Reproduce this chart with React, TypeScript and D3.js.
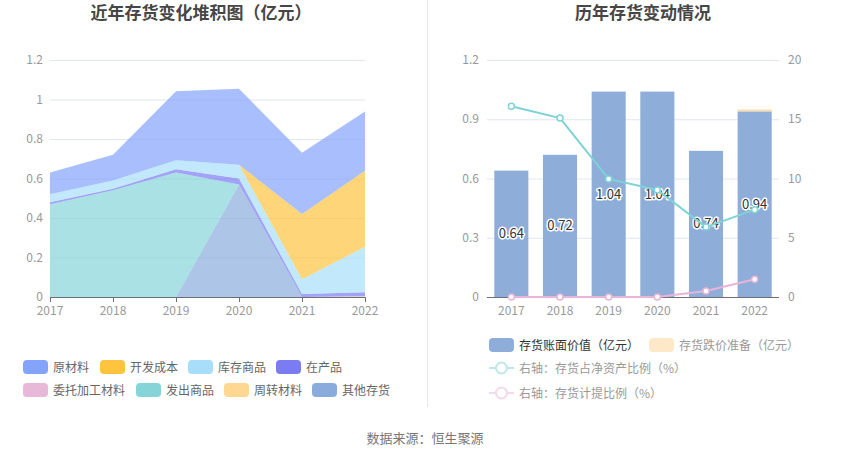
import React from "react";
import * as d3 from "d3";

const years = ["2017", "2018", "2019", "2020", "2021", "2022"];

// Left stacked chart series (亿元)
const rawMaterial = [0.11, 0.13, 0.35, 0.385, 0.31, 0.30]; // 原材料
const devCost = [0, 0, 0, 0, 0.33, 0.385]; // 开发成本
const goodsStock = [0.04, 0.042, 0.045, 0.07, 0.075, 0.23]; // 库存商品
const wip = [0.01, 0.008, 0.017, 0.03, 0.015, 0.02]; // 在产品
const consigned = [0, 0, 0, 0, 0, 0]; // 委托加工材料
const shipped = [0.47, 0.54, 0.63, 0, 0, 0]; // 发出商品
const turnover = [0, 0, 0, 0, 0, 0.004]; // 周转材料
const otherStock = [0, 0, 0, 0.57, 0, 0]; // 其他存货

const leftTicks = [0, 0.2, 0.4, 0.6, 0.8, 1, 1.2];

// Right chart
const bookValue = [0.64, 0.72, 1.04, 1.04, 0.74, 0.94]; // 存货账面价值
const impairment = [0, 0, 0, 0, 0, 0.01]; // 存货跌价准备
const ratioNetAssets = [16.1, 15.1, 9.96, 9.03, 5.9, 7.37]; // 存货占净资产比例
const provisionRatio = [0, 0, 0, 0, 0.5, 1.49]; // 存货计提比例
const rightLeftTicks = [0, 0.3, 0.6, 0.9, 1.2];
const rightRightTicks = [0, 5, 10, 15, 20];

const FONT = "'Noto Sans CJK SC', 'Noto Sans', sans-serif";

type Series = { name: string; color: string; values: number[] };

// stacking order from bottom to top
const stackSeries: Series[] = [
  { name: "其他存货", color: "#8aacdc", values: otherStock },
  { name: "周转材料", color: "#fed890", values: turnover },
  { name: "发出商品", color: "#84d4d8", values: shipped },
  { name: "委托加工材料", color: "#e8b8d8", values: consigned },
  { name: "在产品", color: "#7b7bf2", values: wip },
  { name: "库存商品", color: "#a8defa", values: goodsStock },
  { name: "开发成本", color: "#fec33f", values: devCost },
  { name: "原材料", color: "#84a4fc", values: rawMaterial },
];

const legendOrder = [
  "原材料",
  "开发成本",
  "库存商品",
  "在产品",
  "委托加工材料",
  "发出商品",
  "周转材料",
  "其他存货",
];
const legendX = [23, 100, 188, 276, 23, 136, 224, 312];

export default function App() {
  // Left chart scales
  const xL = d3.scalePoint<string>().domain(years).range([50, 365]);
  const yL = d3.scaleLinear().domain([0, 1.2]).range([297, 60]);

  const cum: number[] = years.map(() => 0);
  const layers = stackSeries.map((s) => {
    const lower = cum.slice();
    s.values.forEach((v, i) => (cum[i] += v));
    const upper = cum.slice();
    return { ...s, lower, upper };
  });

  const areaPath = (lower: number[], upper: number[]) =>
    d3
      .area<number>()
      .x((i) => xL(years[i]) as number)
      .y0((i) => yL(lower[i]))
      .y1((i) => yL(upper[i]))(years.map((_, i) => i)) as string;

  // Right chart scales
  const xR = d3
    .scaleBand<string>()
    .domain(years)
    .range([487, 779])
    .paddingInner(0.3)
    .paddingOuter(0.15);
  const yRL = d3.scaleLinear().domain([0, 1.2]).range([297, 60]);
  const yRR = d3.scaleLinear().domain([0, 20]).range([297, 60]);

  const lineGen = d3
    .line<number>()
    .x((_, i) => (xR(years[i]) as number) + xR.bandwidth() / 2)
    .y((d) => yRR(d));

  const colorOf = (n: string) => stackSeries.find((s) => s.name === n)!.color;

  return (
    <svg
      width={850}
      height={459}
      style={{ position: "absolute", left: 0, top: 0, background: "#fff" }}
      fontFamily={FONT}
    >
      {/* Titles */}
      <text x={201} y={19} textAnchor="middle" fontSize={17} fontWeight="bold" fill="#464646">
        近年存货变化堆积图（亿元）
      </text>
      <text x={643} y={19} textAnchor="middle" fontSize={17} fontWeight="bold" fill="#464646">
        历年存货变动情况
      </text>

      {/* Divider */}
      <line x1={427.5} x2={427.5} y1={0} y2={407} stroke="#e8e8e8" strokeWidth={1} />

      {/* ===== Left chart ===== */}
      {leftTicks.map((t) => (
        <g key={"lg" + t}>
          {t > 0 && (
            <line x1={50} x2={365} y1={yL(t) + 0.5} y2={yL(t) + 0.5} stroke="#e0e6f1" />
          )}
          <text x={43} y={yL(t) + 4} textAnchor="end" fontSize={12} fill="#999">
            {t}
          </text>
        </g>
      ))}
      {layers.map((l) => (
        <path key={l.name} d={areaPath(l.lower, l.upper)} fill={l.color} fillOpacity={0.7} stroke="none" />
      ))}
      <line x1={50} x2={365} y1={297.5} y2={297.5} stroke="#6e7079" />
      {years.map((y) => (
        <g key={"lx" + y}>
          <line x1={(xL(y) as number) + 0.5} x2={(xL(y) as number) + 0.5} y1={297} y2={302} stroke="#6e7079" />
          <text x={xL(y)} y={315} textAnchor="middle" fontSize={12} fill="#999">
            {y}
          </text>
        </g>
      ))}

      {/* Left legend */}
      {legendOrder.map((n, i) => {
        const y = i < 4 ? 367 : 390;
        const x = legendX[i];
        return (
          <g key={"leg" + n}>
            <rect x={x} y={y - 7} width={25} height={14} rx={4} fill={colorOf(n)} />
            <text x={x + 30} y={y + 4.5} fontSize={12} fill="#666">
              {n}
            </text>
          </g>
        );
      })}

      {/* ===== Right chart ===== */}
      {rightLeftTicks.map((t, i) => (
        <g key={"rg" + t}>
          {t > 0 && (
            <line x1={487} x2={779} y1={yRL(t) + 0.5} y2={yRL(t) + 0.5} stroke="#e0e6f1" />
          )}
          <text x={479} y={yRL(t) + 4} textAnchor="end" fontSize={12} fill="#999">
            {t}
          </text>
          <text x={788} y={yRR(rightRightTicks[i]) + 4} textAnchor="start" fontSize={12} fill="#999">
            {rightRightTicks[i]}
          </text>
        </g>
      ))}
      {years.map((y, i) => {
        const x = xR(y) as number;
        const w = xR.bandwidth();
        return (
          <g key={"bar" + y}>
            <rect x={x} y={yRL(bookValue[i])} width={w} height={yRL(0) - yRL(bookValue[i])} fill="#8eadd9" />
            {impairment[i] > 0 && (
              <rect
                x={x}
                y={yRL(bookValue[i] + impairment[i])}
                width={w}
                height={yRL(bookValue[i]) - yRL(bookValue[i] + impairment[i])}
                fill="#fde0b0"
              />
            )}
          </g>
        );
      })}
      <line x1={487} x2={779} y1={297.5} y2={297.5} stroke="#6e7079" />
      {years.map((y) => (
        <text
          key={"rx" + y}
          x={(xR(y) as number) + xR.bandwidth() / 2}
          y={315}
          textAnchor="middle"
          fontSize={12}
          fill="#999"
        >
          {y}
        </text>
      ))}
      {/* Bar labels */}
      {years.map((y, i) => (
        <text
          key={"bl" + y}
          x={(xR(y) as number) + xR.bandwidth() / 2}
          y={yRL(bookValue[i] / 2) + 4.5}
          textAnchor="middle"
          fontSize={13}
          fill="#333"
          stroke="#fff"
          strokeWidth={3}
          paintOrder="stroke"
          strokeLinejoin="round"
        >
          {bookValue[i].toFixed(2)}
        </text>
      ))}
      {/* Lines */}
      <path d={lineGen(ratioNetAssets) as string} fill="none" stroke="#7dd3d6" strokeWidth={2} />
      <path d={lineGen(provisionRatio) as string} fill="none" stroke="#e8b4d8" strokeWidth={2} />
      {years.map((y, i) => {
        const cx = (xR(y) as number) + xR.bandwidth() / 2;
        return (
          <g key={"pt" + y}>
            <circle cx={cx} cy={yRR(ratioNetAssets[i])} r={3} fill="#fff" stroke="#7dd3d6" strokeWidth={1.5} />
            <circle cx={cx} cy={yRR(provisionRatio[i])} r={3} fill="#fff" stroke="#e8b4d8" strokeWidth={1.5} />
          </g>
        );
      })}

      {/* Right legend */}
      <rect x={489} y={338} width={25} height={14} rx={4} fill="#8eadd9" />
      <text x={519} y={349.5} fontSize={12} fill="#333">
        存货账面价值（亿元）
      </text>
      <rect x={649} y={338} width={25} height={14} rx={4} fill="#fde9c8" />
      <text x={679} y={349.5} fontSize={12} fill="#999">
        存货跌价准备（亿元）
      </text>
      <g opacity={0.5}>
        <line x1={489} x2={514} y1={368} y2={368} stroke="#7dd3d6" strokeWidth={2} />
        <circle cx={501.5} cy={368} r={5.5} fill="#fff" stroke="#7dd3d6" strokeWidth={2} />
        <line x1={489} x2={514} y1={393} y2={393} stroke="#e8b4d8" strokeWidth={2} />
        <circle cx={501.5} cy={393} r={5.5} fill="#fff" stroke="#e8b4d8" strokeWidth={2} />
      </g>
      <text x={519} y={372.5} fontSize={12} fill="#999">
        右轴：存货占净资产比例（%）
      </text>
      <text x={519} y={397.5} fontSize={12} fill="#999">
        右轴：存货计提比例（%）
      </text>

      {/* Source */}
      <text x={425} y={443} textAnchor="middle" fontSize={13} fill="#777">
        数据来源：恒生聚源
      </text>
    </svg>
  );
}
